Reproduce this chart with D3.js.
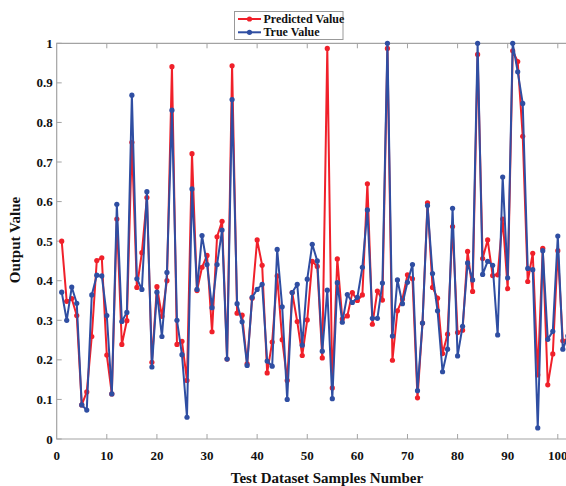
<!DOCTYPE html>
<html>
<head>
<meta charset="utf-8">
<script src="https://cdn.jsdelivr.net/npm/d3@7"></script>
<style>
  body { margin: 0; background: #fff; }
  svg text { font-family: "Liberation Serif", "Times New Roman", serif; font-weight: bold; fill: #111; }
</style>
</head>
<body>
<svg id="chart" width="566" height="486"></svg>
<script>
// sample numbers 1..102
const samples = d3.range(1, 103);

const predicted = [
  0.50, 0.348, 0.355, 0.312, 0.086, 0.119, 0.259, 0.451, 0.458, 0.212,
  0.114, 0.556, 0.239, 0.299, 0.75, 0.383, 0.471, 0.610, 0.194, 0.385,
  0.31, 0.40, 0.941, 0.239, 0.247, 0.148, 0.721, 0.375, 0.434, 0.464,
  0.271, 0.511, 0.55, 0.202, 0.943, 0.318, 0.313, 0.19, 0.356, 0.503,
  0.439, 0.167, 0.245, 0.412, 0.251, 0.148, 0.37, 0.297, 0.211, 0.301,
  0.449, 0.436, 0.205, 0.987, 0.129, 0.455, 0.303, 0.311, 0.37, 0.35,
  0.364, 0.645, 0.29, 0.374, 0.351, 0.987, 0.199, 0.324, 0.354, 0.415,
  0.405, 0.104, 0.293, 0.597, 0.383, 0.356, 0.216, 0.265, 0.537, 0.269,
  0.275, 0.474, 0.373, 0.972, 0.456, 0.503, 0.413, 0.415, 0.556, 0.38,
  0.981, 0.954, 0.765, 0.398, 0.469, 0.162, 0.482, 0.137, 0.215, 0.476,
  0.248, 0.25
];

const trueValue = [
  0.371, 0.300, 0.384, 0.343, 0.086, 0.073, 0.364, 0.414, 0.412, 0.312,
  0.114, 0.593, 0.297, 0.320, 0.869, 0.405, 0.378, 0.625, 0.182, 0.371,
  0.259, 0.421, 0.831, 0.300, 0.213, 0.055, 0.632, 0.378, 0.514, 0.441,
  0.332, 0.441, 0.528, 0.202, 0.858, 0.342, 0.296, 0.186, 0.358, 0.378,
  0.391, 0.197, 0.184, 0.479, 0.334, 0.10, 0.37, 0.391, 0.237, 0.404,
  0.492, 0.450, 0.222, 0.376, 0.102, 0.395, 0.295, 0.365, 0.345, 0.358,
  0.434, 0.579, 0.305, 0.305, 0.394, 1.0, 0.26, 0.402, 0.342, 0.396,
  0.441, 0.122, 0.293, 0.59, 0.418, 0.324, 0.17, 0.227, 0.583, 0.21,
  0.285, 0.445, 0.402, 1.0, 0.416, 0.449, 0.439, 0.263, 0.662, 0.407,
  1.0, 0.928, 0.848, 0.431, 0.428, 0.028, 0.476, 0.252, 0.272, 0.513,
  0.227, 0.26
];

const xTicks = d3.range(0, 101, 10);
const yTicks = d3.range(0, 11).map(i => i / 10);
const seriesNames = ['Predicted Value', 'True Value'];

const svg = d3.select('#chart');

// plot box (right edge runs off the picture)
const plotLeft = 56.7, plotRight = 566, plotTop = 43.3, plotBottom = 439;
const axisColor = '#a3a3a3',
  redColor = '#f0202a',
  blueColor = '#2f4ea2';

const x = d3.scaleLinear().domain([0, 100]).range([plotLeft, 557.8]);
const y = d3.scaleLinear().domain([0, 1]).range([plotBottom, plotTop]);

// frame
svg.append('path')
  .attr('d', `M${plotRight + 5},${plotTop}H${plotLeft}V${plotBottom}H${plotRight + 5}`)
  .attr('fill', 'none')
  .attr('stroke', axisColor)
  .attr('stroke-width', 1.2);

// inward ticks, bottom + top + left
const tickLen = 5;
xTicks.forEach(t => {
  if (t === 0) return;
  svg.append('line')
    .attr('x1', x(t)).attr('x2', x(t))
    .attr('y1', plotBottom).attr('y2', plotBottom - tickLen)
    .attr('stroke', axisColor);
  svg.append('line')
    .attr('x1', x(t)).attr('x2', x(t))
    .attr('y1', plotTop).attr('y2', plotTop + tickLen)
    .attr('stroke', axisColor);
});
yTicks.forEach(t => {
  svg.append('line')
    .attr('x1', plotLeft).attr('x2', plotLeft + tickLen)
    .attr('y1', y(t)).attr('y2', y(t))
    .attr('stroke', axisColor);
});

// tick labels
svg.append('g').selectAll('text')
  .data(xTicks)
  .join('text')
  .attr('x', d => x(d))
  .attr('y', plotBottom + 21)
  .attr('text-anchor', 'middle')
  .attr('font-size', 13)
  .text(d => d);

svg.append('g').selectAll('text')
  .data(yTicks)
  .join('text')
  .attr('x', plotLeft - 4)
  .attr('y', d => y(d) + 4.5)
  .attr('text-anchor', 'end')
  .attr('font-size', 13)
  .text(d => String(d));

// axis titles
svg.append('text')
  .attr('x', 327)
  .attr('y', 483)
  .attr('text-anchor', 'middle')
  .attr('font-size', 15)
  .text('Test Dataset Samples Number');

svg.append('text')
  .attr('transform', 'translate(20,240) rotate(-90)')
  .attr('text-anchor', 'middle')
  .attr('font-size', 15)
  .text('Output Value');

// series
function drawSeries(values, color) {
  const pts = samples.map((s, i) => ({ s: s, v: values[i] }));
  const line = d3.line().x(d => x(d.s)).y(d => y(d.v));
  svg.append('path')
    .datum(pts)
    .attr('d', line)
    .attr('fill', 'none')
    .attr('stroke', color)
    .attr('stroke-width', 2)
    .attr('stroke-linejoin', 'round');
  svg.append('g').selectAll('circle')
    .data(pts)
    .join('circle')
    .attr('cx', d => x(d.s))
    .attr('cy', d => y(d.v))
    .attr('r', 2.6)
    .attr('fill', color);
}
drawSeries(predicted, redColor);
drawSeries(trueValue, blueColor);

// legend
const legend = svg.append('g');
legend.append('rect')
  .attr('x', 234.5).attr('y', 11.5)
  .attr('width', 108.5).attr('height', 28)
  .attr('fill', '#fff')
  .attr('stroke', '#999')
  .attr('stroke-width', 1);
[redColor, blueColor].forEach((c, i) => {
  const ly = 19 + i * 13.3;
  legend.append('line')
    .attr('x1', 238).attr('x2', 261)
    .attr('y1', ly).attr('y2', ly)
    .attr('stroke', c).attr('stroke-width', 2);
  legend.append('circle')
    .attr('cx', 249.5).attr('cy', ly).attr('r', 2.6)
    .attr('fill', c);
  legend.append('text')
    .attr('x', 263.5).attr('y', ly + 4)
    .attr('font-size', 12)
    .text(seriesNames[i]);
});
</script>
</body>
</html>
